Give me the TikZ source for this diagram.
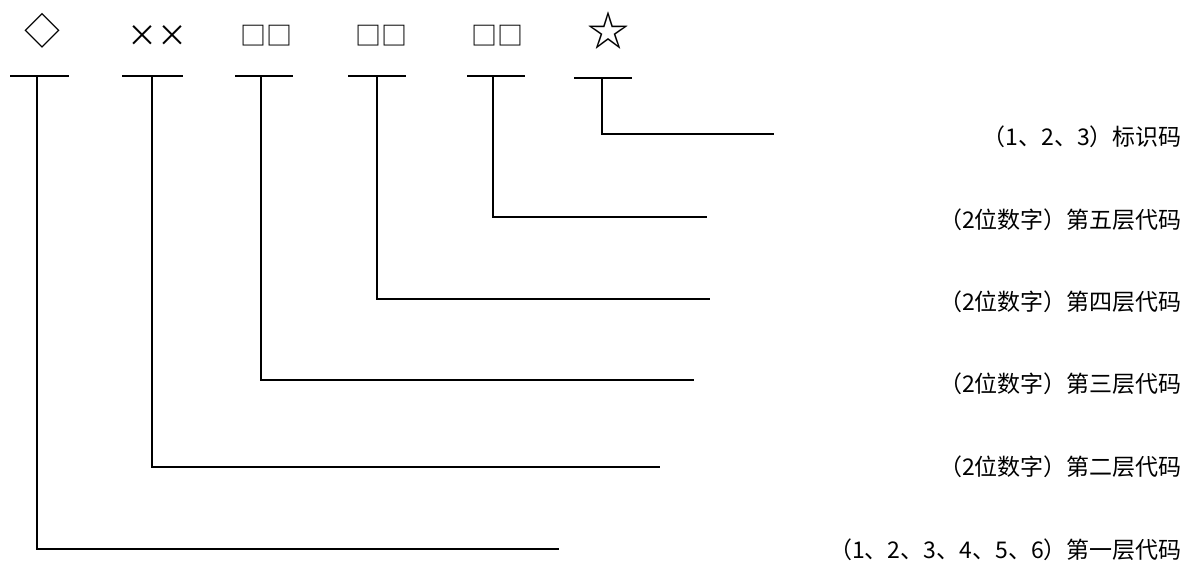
\documentclass[tikz,border=0pt]{standalone}
\usepackage{fontspec}
\newfontfamily\cjk{Noto Sans CJK SC}
\begin{document}
\begin{tikzpicture}[x=1pt,y=-1pt,
  lab/.style={anchor=east, inner sep=0pt, font=\cjk\fontsize{23}{23}\selectfont},
  sym/.style={inner sep=0pt, font=\cjk\fontsize{26}{26}\selectfont},
  crosssym/.style={inner sep=0pt, font=\cjk\fontsize{30}{30}\selectfont},
  bigsym/.style={inner sep=0pt, font=\cjk\fontsize{36}{36}\selectfont},
  starsym/.style={inner sep=0pt, font=\cjk\fontsize{42}{42}\selectfont},
  bar/.style={line width=1.3pt},
  link/.style={line width=1.3pt}]
\useasboundingbox (0,0) rectangle (1185,560);
% symbols
\node[bigsym] (s1) at (42,31) {◇};
\node[crosssym] (s2) at (157,36) {××};
\node[sym] (s3) at (266,36) {□□};
\node[sym] (s4) at (381,36) {□□};
\node[sym] (s5) at (497,36) {□□};
\node[starsym] (s6) at (608,31) {☆};
% bars
\coordinate (b1) at (37,76);
\coordinate (b2) at (152,76);
\coordinate (b3) at (261,76);
\coordinate (b4) at (377,76);
\coordinate (b5) at (493,76);
\coordinate (b6) at (602,78);
\draw[bar] (10,76) -- (69,76);
\draw[bar] (122,76) -- (183,76);
\draw[bar] (235,76) -- (293,76);
\draw[bar] (348,76) -- (406,76);
\draw[bar] (467,76) -- (525,76);
\draw[bar] (574,78) -- (632,78);
% line ends
\coordinate (e6) at (774,134);
\coordinate (e5) at (707,217);
\coordinate (e4) at (710,299);
\coordinate (e3) at (694,380);
\coordinate (e2) at (660,467);
\coordinate (e1) at (559,549);
\draw[link] (b6) |- (e6);
\draw[link] (b5) |- (e5);
\draw[link] (b4) |- (e4);
\draw[link] (b3) |- (e3);
\draw[link] (b2) |- (e2);
\draw[link] (b1) |- (e1);
% labels
\node[lab] (l6) at (1182,137) {（1、2、3）标识码};
\node[lab] (l5) at (1182,220) {（2位数字）第五层代码};
\node[lab] (l4) at (1182,302) {（2位数字）第四层代码};
\node[lab] (l3) at (1182,384) {（2位数字）第三层代码};
\node[lab] (l2) at (1182,467) {（2位数字）第二层代码};
\node[lab] (l1) at (1182,550) {（1、2、3、4、5、6）第一层代码};
\end{tikzpicture}
\end{document}
